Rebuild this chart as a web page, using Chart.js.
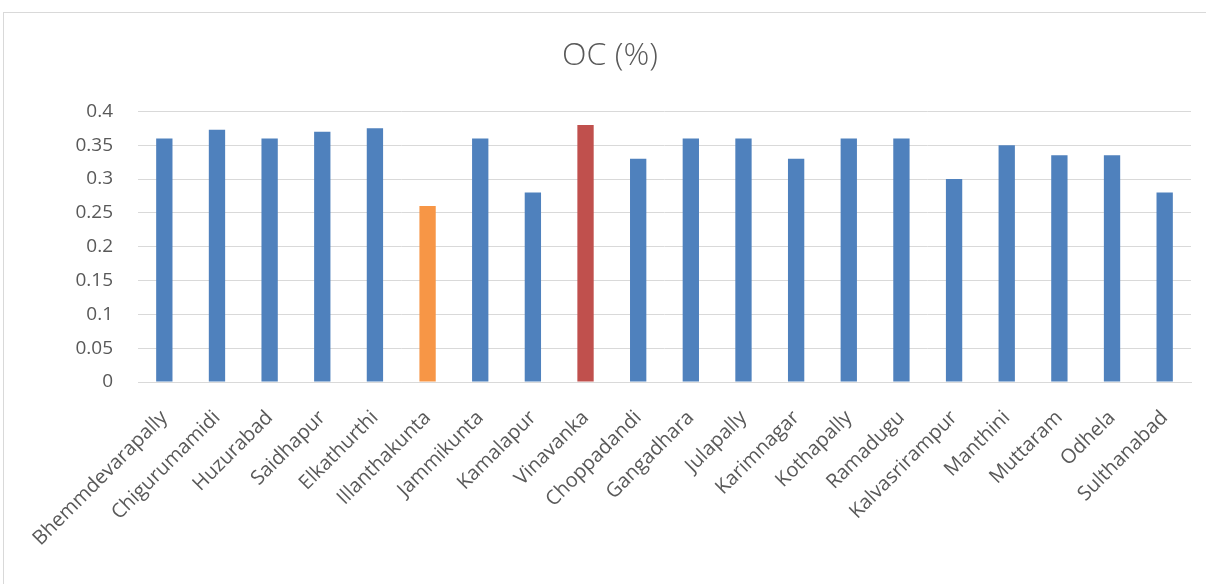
<!DOCTYPE html>
<html>
<head>
<meta charset="utf-8">
<script src="https://cdn.jsdelivr.net/npm/chart.js@4.4.1/dist/chart.umd.min.js"></script>
<style>
  html, body { margin: 0; padding: 0; background: #ffffff; }
  #wrap { position: relative; width: 1206px; height: 584px; overflow: hidden; }
  #frame { position: absolute; left: 3px; top: 12px; width: 1210px; height: 590px;
           border: 1px solid #d9d9d9; box-sizing: border-box; }
  canvas { position: absolute; left: 0; top: 0; }
</style>
</head>
<body>
<div id="wrap">
  <div id="frame"></div>
  <canvas id="chart" width="1206" height="584"></canvas>
</div>
<script>
// Organic carbon (%) by mandal
const mandals = [
  "Bhemmdevarapally", "Chigurumamidi", "Huzurabad", "Saidhapur", "Elkathurthi",
  "Illanthakunta", "Jammikunta", "Kamalapur", "Vinavanka", "Choppadandi",
  "Gangadhara", "Julapally", "Karimnagar", "Kothapally", "Ramadugu",
  "Kalvasrirampur", "Manthini", "Muttaram", "Odhela", "Sulthanabad"
];
const ocValues = [
  0.36, 0.373, 0.36, 0.37, 0.375,
  0.26, 0.36, 0.28, 0.38, 0.33,
  0.36, 0.36, 0.33, 0.36, 0.36,
  0.30, 0.35, 0.335, 0.335, 0.28
];
const yTickLabels = ["0", "0.05", "0.1", "0.15", "0.2", "0.25", "0.3", "0.35", "0.4"];

const blue = "#4f81bd", orange = "#f79646", red = "#c0504d";
const barColors = ocValues.map((v, i) =>
  i === 5 ? orange : (i === 8 ? red : blue));

const textGray = "#595959";
const fontFamily = "'Open Sans', sans-serif";

new Chart(document.getElementById("chart"), {
  type: "bar",
  data: {
    labels: mandals,
    datasets: [{
      label: "OC (%)",
      data: ocValues,
      backgroundColor: barColors,
      borderWidth: 0,
      barPercentage: 1,
      categoryPercentage: 0.31
    }]
  },
  options: {
    responsive: false,
    animation: false,
    layout: { padding: { left: 28, right: 14, top: 0, bottom: 0 } },
    plugins: {
      legend: { display: false },
      tooltip: { enabled: false },
      title: {
        display: true,
        text: "OC (%)",
        color: textGray,
        font: { family: fontFamily, size: 32, weight: "300", lineHeight: 1.2 },
        padding: { top: 37, bottom: 36 }
      }
    },
    scales: {
      x: {
        grid: { display: false, drawTicks: false },
        border: { display: true, color: "#d9d9d9", width: 1 },
        ticks: {
          color: textGray,
          font: { family: fontFamily, size: 20 },
          minRotation: 45,
          maxRotation: 45,
          autoSkip: false,
          padding: 24
        },
        afterFit: (s) => { s.height = 202; }
      },
      y: {
        min: 0,
        max: 0.4,
        grid: { color: "#d9d9d9", lineWidth: 1, drawTicks: false },
        border: { display: false },
        ticks: {
          stepSize: 0.05,
          color: textGray,
          font: { family: fontFamily, size: 19 },
          padding: 25,
          callback: (v, i) => yTickLabels[i]
        },
        afterFit: (s) => { s.width = 110; }
      }
    }
  }
});
</script>
</body>
</html>
